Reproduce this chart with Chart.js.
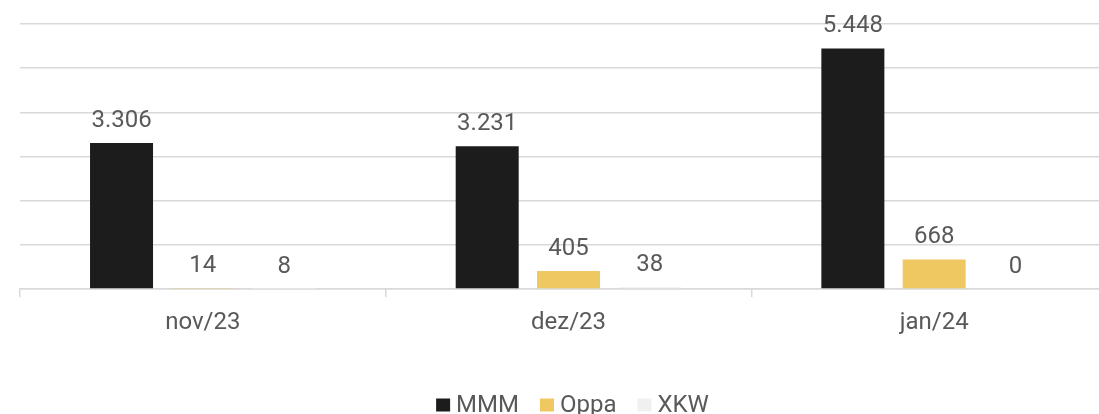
<!DOCTYPE html>
<html>
<head>
<meta charset="utf-8">
<script src="https://cdn.jsdelivr.net/npm/chart.js@4"></script>
<style>
  html, body { margin: 0; padding: 0; background: #fff; overflow: hidden; }
  #wrap { width: 1099px; height: 414px; overflow: hidden; }
</style>
</head>
<body>
<div id="wrap"><canvas id="myChart" width="1137" height="414"></canvas></div>
<script>
const months = ["nov/23", "dez/23", "jan/24"];
const seriesNames = ["MMM", "Oppa", "XKW"];
const mmm = [3306, 3231, 5448];
const oppa = [14, 405, 668];
const xkw = [8, 38, 0];
const yTicks = [0, 1000, 2000, 3000, 4000, 5000, 6000];

const colors = ["#1c1c1c", "#efc862", "#f0f0f0"];
const textColor = "#595959";
const gridColor = "#d9d9d9";

// value labels over each bar, pt-BR thousands separator
const barLabels = {
  id: "barLabels",
  afterDatasetsDraw(chart) {
    const ctx = chart.ctx;
    ctx.save();
    ctx.font = "24px Roboto";
    ctx.fillStyle = textColor;
    ctx.textAlign = "center";
    ctx.textBaseline = "alphabetic";
    chart.data.datasets.forEach((ds, i) => {
      chart.getDatasetMeta(i).data.forEach((bar, j) => {
        const txt = ds.data[j].toLocaleString("pt-BR");
        ctx.fillText(txt, bar.x, bar.y - 16);
      });
    });
    ctx.restore();
  },
};

// small legend at the bottom: square, tight gap, name
const bottomLegend = {
  id: "bottomLegend",
  afterDraw(chart) {
    const ctx = chart.ctx;
    const area = chart.chartArea;
    ctx.save();
    ctx.font = "24px Roboto";
    ctx.textBaseline = "alphabetic";
    ctx.textAlign = "left";
    const box = 14, gap = 6, itemGap = 21;
    const items = chart.data.datasets.map((ds) => ({
      name: ds.label,
      color: ds.backgroundColor,
      w: box + gap + ctx.measureText(ds.label).width,
    }));
    const total = items.reduce((s, it) => s + it.w, 0) + itemGap * (items.length - 1);
    let x = (area.left + area.right) / 2 + 4 - total / 2;
    const base = 411.5;
    items.forEach((it) => {
      ctx.fillStyle = it.color;
      ctx.fillRect(x, base - 13, box, 13);
      ctx.fillStyle = textColor;
      ctx.fillText(it.name, x + box + gap, base);
      x += it.w + itemGap;
    });
    ctx.restore();
  },
};

const ctx = document.getElementById("myChart");
new Chart(ctx, {
  type: "bar",
  data: {
    labels: months,
    datasets: [
      { label: seriesNames[0], data: mmm, backgroundColor: colors[0] },
      { label: seriesNames[1], data: oppa, backgroundColor: colors[1] },
      { label: seriesNames[2], data: xkw, backgroundColor: colors[2] },
    ],
  },
  options: {
    responsive: false,
    animation: false,
    layout: { padding: { left: 20, right: 20, top: 24, bottom: 0 } },
    datasets: {
      bar: { categoryPercentage: 0.667, barPercentage: 0.775 },
    },
    plugins: {
      tooltip: { enabled: false },
      legend: { display: false },
    },
    scales: {
      x: {
        offset: true,
        grid: {
          offset: true,
          drawOnChartArea: false,
          drawTicks: true,
          tickLength: 8,
          color: gridColor,
          lineWidth: 1.5,
        },
        border: { color: gridColor, width: 1.5 },
        ticks: {
          color: textColor,
          font: { family: "Roboto", size: 24 },
          padding: 12,
        },
        afterFit(scale) {
          scale.height = 125;
        },
      },
      y: {
        min: 0,
        max: 6000,
        afterBuildTicks(scale) {
          scale.ticks = yTicks.map((v) => ({ value: v }));
        },
        ticks: { display: false },
        grid: { color: gridColor, lineWidth: 1.5, drawTicks: false },
        border: { display: false },
        afterFit(scale) {
          scale.width = 0;
        },
      },
    },
  },
  plugins: [barLabels, bottomLegend],
});
</script>
</body>
</html>
